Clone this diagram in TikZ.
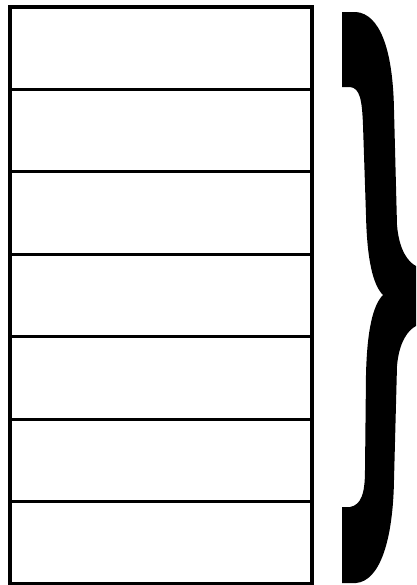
\documentclass[tikz,border=0pt]{standalone}
\begin{document}
\begin{tikzpicture}[x=0.025cm, y=-0.025cm]
      \useasboundingbox (0,0) rectangle (416,585);
      % stack of seven equal cells
      \draw[line width=2.2pt] (10,7) rectangle (312,584);
      \foreach \k in {1,...,6}{
        \draw[line width=2.2pt] (10,{7+82.43*\k}) -- (312,{7+82.43*\k});
      }
      % heavy curly brace
      \fill[black] (342,12) -- (356,12)
        .. controls (380,14) and (393,50) .. (394,110)
        -- (397,225)
        .. controls (399,250) and (408,262) .. (416,266)
        -- (416,326)
        .. controls (408,330) and (399,342) .. (397,366)
        -- (394,480)
        .. controls (393,540) and (380,581) .. (356,583)
        -- (342,583) -- (342,507) -- (350,507)
        .. controls (361,505) and (365,494) .. (365,470)
        -- (366,375)
        .. controls (367,330) and (373,305) .. (383,295)
        .. controls (373,285) and (367,260) .. (366,215)
        -- (363,125)
        .. controls (362,100) and (360,88) .. (350,87)
        -- (342,87) -- cycle;
    \end{tikzpicture}
\end{document}
